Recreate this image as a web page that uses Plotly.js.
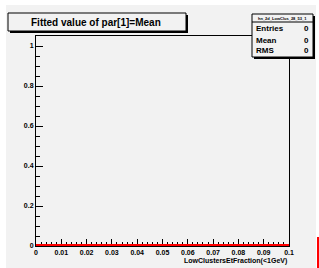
<!DOCTYPE html>
<html>
<head>
<meta charset="utf-8">
<script src="https://cdn.plot.ly/plotly-3.0.1.min.js"></script>
<style>html,body{margin:0;padding:0;background:#fff;}#chart{width:319px;height:268px;}</style>
</head>
<body>
<div id="chart"></div>
<script>
// Data: empty histogram (all bins zero)
const binCenters = [0.005, 0.015, 0.025, 0.035, 0.045, 0.055, 0.065, 0.075, 0.085, 0.095];
const binCounts  = [0, 0, 0, 0, 0, 0, 0, 0, 0, 0];
const xTickVals  = [0, 0.01, 0.02, 0.03, 0.04, 0.05, 0.06, 0.07, 0.08, 0.09, 0.1];
const xTickText  = ["0", "0.01", "0.02", "0.03", "0.04", "0.05", "0.06", "0.07", "0.08", "0.09", "0.1"];
const yTickVals  = [0, 0.2, 0.4, 0.6, 0.8, 1];
const yTickText  = ["0", "0.2", "0.4", "0.6", "0.8", "1"];
const titleText  = "Fitted value of par[1]=Mean";
const xLabel     = "LowClustersEtFraction(&lt;1GeV)";
const statsName  = "hn_2d_LowClus_28_53_1";
const statsLabels = ["Entries", "Mean", "RMS"];
const statsValues = ["0", "0", "0"];

const W = 319, H = 268;
const L = 36, R = 289, T = 36, B = 246;
const px = x => (x - L) / (R - L);
const py = y => (B - y) / (B - T);

const FONT = "Liberation Sans Narrow, Arial Narrow, sans-serif";
const bg = "#f2f2f2";

const trace = {
  x: [0].concat(binCenters.map((c) => c + 0.005)),
  y: [binCounts[0]].concat(binCounts),
  type: "scatter", mode: "lines", line: {shape: "vh", color: "#ff0000", width: 4},
  hoverinfo: "skip"
};

const shapes = [
  {type: "rect", xref: "paper", yref: "paper", x0: px(6), x1: px(316), y0: py(5), y1: py(268), fillcolor: bg, line: {width: 0}, layer: "below"},
  {type: "line", xref: "paper", yref: "paper", x0: px(318), x1: px(318), y0: py(237), y1: py(268), line: {color: "#ff0000", width: 2}},
  {type: "rect", xref: "paper", yref: "paper", x0: px(10), x1: px(188), y0: py(15), y1: py(33), fillcolor: "#000", line: {width: 0}},
  {type: "rect", xref: "paper", yref: "paper", x0: px(8), x1: px(186), y0: py(13), y1: py(31), fillcolor: bg, line: {color: "#000", width: 1}},
  {type: "rect", xref: "paper", yref: "paper", x0: px(254), x1: px(315), y0: py(16), y1: py(59), fillcolor: "#000", line: {width: 0}},
  {type: "rect", xref: "paper", yref: "paper", x0: px(252), x1: px(313), y0: py(14), y1: py(57), fillcolor: bg, line: {color: "#000", width: 1}},
  {type: "line", xref: "paper", yref: "paper", x0: px(252), x1: px(313), y0: py(22), y1: py(22), line: {color: "#000", width: 1}}
];

const annotations = [
  {xref: "paper", yref: "paper", x: px(96), y: py(22), text: titleText, showarrow: false, xanchor: "center", yanchor: "middle",
   font: {family: FONT, size: 10, color: "#000", weight: "bold"}},
  {xref: "paper", yref: "paper", x: 1, y: py(261), text: xLabel, showarrow: false, xanchor: "right", yanchor: "middle",
   font: {family: FONT, size: 7, color: "#000", weight: "bold"}},
  {xref: "paper", yref: "paper", x: px(282.5), y: py(18), text: statsName, showarrow: false, xanchor: "center", yanchor: "middle",
   font: {family: FONT, size: 4, color: "#000", weight: "bold"}}
];
const rowsY = [29, 40, 50];
statsLabels.forEach((lab, i) => {
  annotations.push({xref: "paper", yref: "paper", x: px(254), y: py(rowsY[i]), text: lab, showarrow: false, xanchor: "left", yanchor: "middle",
    font: {family: FONT, size: 8, color: "#000", weight: "bold"}});
  annotations.push({xref: "paper", yref: "paper", x: px(311), y: py(rowsY[i]), text: statsValues[i], showarrow: false, xanchor: "right", yanchor: "middle",
    font: {family: FONT, size: 8, color: "#000", weight: "bold"}});
});

const axisCommon = {
  ticks: "inside", ticklen: 7, tickwidth: 1, tickcolor: "#000",
  showline: true, linecolor: "#000", linewidth: 1, mirror: true,
  showgrid: false, zeroline: false, layer: "below traces",
  tickfont: {family: FONT, size: 7, color: "#000", weight: "bold"}
};

const layout = {
  width: W, height: H,
  margin: {l: L, r: W - R, t: T, b: H - B, pad: 0},
  paper_bgcolor: "#ffffff", plot_bgcolor: bg,
  showlegend: false,
  xaxis: Object.assign({}, axisCommon, {
    range: [0, 0.1], tickvals: xTickVals, ticktext: xTickText,
    minor: {dtick: 0.002, ticks: "inside", ticklen: 4, tickcolor: "#000", tickwidth: 1, showgrid: false}
  }),
  yaxis: Object.assign({}, axisCommon, {
    range: [0, 1.05], tickvals: yTickVals, ticktext: yTickText,
    minor: {dtick: 0.05, ticks: "inside", ticklen: 4, tickcolor: "#000", tickwidth: 1, showgrid: false}
  }),
  shapes: shapes,
  annotations: annotations
};

Plotly.newPlot("chart", [trace], layout, {displayModeBar: false, staticPlot: true});
</script>
</body>
</html>
